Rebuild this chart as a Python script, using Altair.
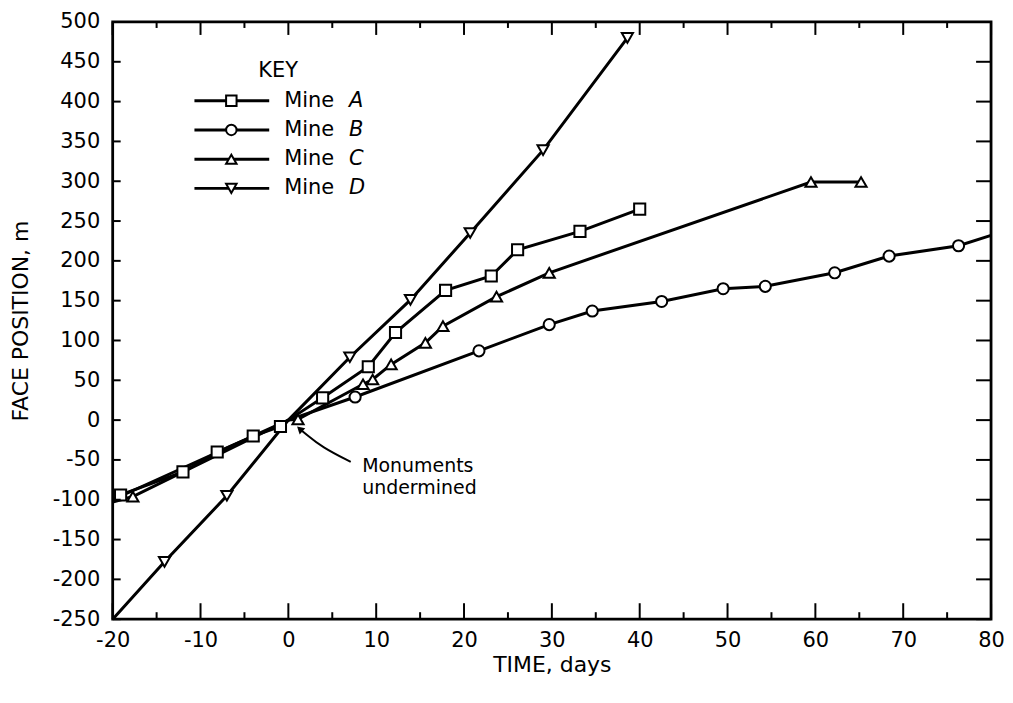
import pandas as pd
import altair as alt

FONT = "DejaVu Sans"

# Mine A (squares)
a_days = [-19.1, -12.0, -8.1, -4.0, -0.9, 0.0, 3.9, 9.1, 12.2, 17.9, 23.1, 26.1, 33.2, 40.0]
a_pos = [-94, -65, -40, -20, -8, 0, 28, 67, 110, 163, 181, 214, 237, 265]
a_mark = [1, 1, 1, 1, 1, 0, 1, 1, 1, 1, 1, 1, 1, 1]

# Mine B (circles)
b_days = [-20.0, 0.0, 7.6, 21.7, 29.7, 34.6, 42.5, 49.5, 54.3, 62.2, 68.4, 76.3, 80.0]
b_pos = [-100, 0, 29, 87, 120, 137, 149, 165, 168, 185, 206, 219, 232]
b_mark = [0, 0, 1, 1, 1, 1, 1, 1, 1, 1, 1, 1, 0]

# Mine C (triangles up)
c_days = [-20.0, -17.7, 0.0, 1.1, 8.5, 9.6, 11.7, 15.6, 17.6, 23.7, 29.7, 59.5, 65.2]
c_pos = [-103, -96, 0, 1, 45, 51, 70, 97, 118, 155, 185, 299, 299]
c_mark = [0, 1, 0, 1, 1, 1, 1, 1, 1, 1, 1, 1, 1]

# Mine D (triangles down)
d_days = [-20.0, -14.1, -7.0, 0.0, 7.0, 13.9, 20.7, 29.0, 38.6]
d_pos = [-250, -178, -95, 0, 79, 151, 235, 339, 480]
d_mark = [0, 1, 1, 0, 1, 1, 1, 1, 1]

mines = ["A", "B", "C", "D"]
shapes = ["square", "circle", "triangle-up", "triangle-down"]

# annotation arrow
arrow_days = [7.1, 3.8, 2.0, 1.4]
arrow_pos = [-52.5, -33.8, -17.5, -12.0]

x_major = list(range(-20, 81, 10))
x_minor = [v + 5 for v in range(-20, 80, 10)]
y_major = list(range(-250, 501, 50))

rows = []
for name, days, pos, mark in [("A", a_days, a_pos, a_mark), ("B", b_days, b_pos, b_mark),
                              ("C", c_days, c_pos, c_mark), ("D", d_days, d_pos, d_mark)]:
    for d, p, m in zip(days, pos, mark):
        rows.append({"mine": name, "day": d, "pos": p, "mark": m})
df = pd.DataFrame(rows)

W, H = 881, 599
xs = alt.Scale(domain=[-20, 80], nice=False, zero=False)
ys = alt.Scale(domain=[-250, 500], nice=False, zero=False)

x_axis = alt.Axis(values=x_major, labelPadding=10, titlePadding=4,
                  labelFlush=False, labelOverlap=False, labelExpr="'' + datum.value")
y_axis = alt.Axis(values=y_major, labelPadding=13, titlePadding=20,
                  labelFlush=False, labelOverlap=False, labelExpr="'' + datum.value")
X = alt.X("day:Q", scale=xs, title="TIME, days", axis=x_axis)
Y = alt.Y("pos:Q", scale=ys, title="FACE POSITION, m", axis=y_axis)

base = alt.Chart(df)

lines = base.mark_line(color="black", strokeWidth=3).encode(x=X, y=Y, detail="mine:N")

points = base.transform_filter("datum.mark == 1").mark_point(
    filled=True, fill="white", stroke="black", strokeWidth=2, opacity=1
).encode(
    x=X,
    y=Y,
    shape=alt.Shape("mine:N", scale=alt.Scale(domain=mines, range=shapes), legend=None),
    size=alt.value(125),
)

arrow_df = pd.DataFrame({"day": arrow_days, "pos": arrow_pos})
arrow = alt.Chart(arrow_df).mark_line(color="black", strokeWidth=2, interpolate="basis").encode(
    x=X, y=Y
)
head = alt.Chart(pd.DataFrame({"day": [arrow_days[-1]], "pos": [arrow_pos[-1]]})).mark_point(
    shape="triangle", filled=True, color="black", opacity=1, angle=312, size=70
).encode(x=X, y=Y)

note = alt.Chart(pd.DataFrame({"day": [8.4, 8.4], "pos": [-57.5, -85],
                               "t": ["Monuments", "undermined"]})).mark_text(
    align="left", baseline="middle", font=FONT, fontSize=19, color="black"
).encode(x=X, y=Y, text="t:N")

# frame ticks (inward)
tx = pd.DataFrame({"day": x_major})
txm = pd.DataFrame({"day": x_minor})
ty = pd.DataFrame({"pos": y_major})
ticks = [
    alt.Chart(tx).mark_rule(color="black", strokeWidth=2).encode(x=X, y=alt.value(H), y2=alt.value(H - 16)),
    alt.Chart(txm).mark_rule(color="black", strokeWidth=2).encode(x=X, y=alt.value(H), y2=alt.value(H - 7)),
    alt.Chart(tx).mark_rule(color="black", strokeWidth=2).encode(x=X, y=alt.value(0), y2=alt.value(13)),
    alt.Chart(txm).mark_rule(color="black", strokeWidth=2).encode(x=X, y=alt.value(0), y2=alt.value(6)),
    alt.Chart(ty).mark_rule(color="black", strokeWidth=2).encode(y=Y, x=alt.value(0), x2=alt.value(8)),
    alt.Chart(ty).mark_rule(color="black", strokeWidth=2).encode(y=Y, x=alt.value(W), x2=alt.value(W - 15)),
]

# hand-drawn key
key_df = pd.DataFrame({"mine": mines, "shape": shapes,
                       "py": [79 + 29.3 * i for i in range(4)]})
key_base = alt.Chart(key_df)
key_y = alt.Y("py:Q", scale=None, axis=None)
key_title = alt.Chart(pd.DataFrame({"t": ["KEY"]})).mark_text(
    font=FONT, fontSize=21, align="center", baseline="middle", color="black"
).encode(x=alt.value(166), y=alt.value(49), text="t:N")
key_lines = key_base.mark_rule(color="black", strokeWidth=3).encode(
    x=alt.value(82), x2=alt.value(157), y=key_y
)
key_pts = key_base.mark_point(filled=True, fill="white", stroke="black", strokeWidth=2,
                              opacity=1, size=110).encode(
    x=alt.value(119), y=key_y,
    shape=alt.Shape("shape:N", scale=None, legend=None),
)
key_txt = key_base.mark_text(font=FONT, fontSize=21, align="left", baseline="middle",
                             color="black").encode(
    x=alt.value(172), y=key_y, text=alt.value("Mine")
)
key_let = key_base.mark_text(font=FONT, fontSize=21, fontStyle="italic", align="left",
                             baseline="middle", color="black").encode(
    x=alt.value(237), y=key_y, text="mine:N"
)

chart = alt.layer(
    lines, arrow, head, points, note, *ticks, key_title, key_lines, key_pts, key_txt, key_let
).properties(
    width=W, height=H,
    autosize=alt.AutoSizeParams(type="none"),
    padding={"left": 105, "top": 13, "right": 14, "bottom": 66},
).configure_view(
    stroke="black", strokeWidth=2.8
).configure_axis(
    grid=False, ticks=False, domain=False,
    labelFont=FONT, labelFontSize=21, labelColor="black",
    titleFont=FONT, titleFontSize=22, titleFontWeight="normal", titleColor="black",
)

chart.save("out.html", embed_options={"renderer": "svg", "actions": False})
